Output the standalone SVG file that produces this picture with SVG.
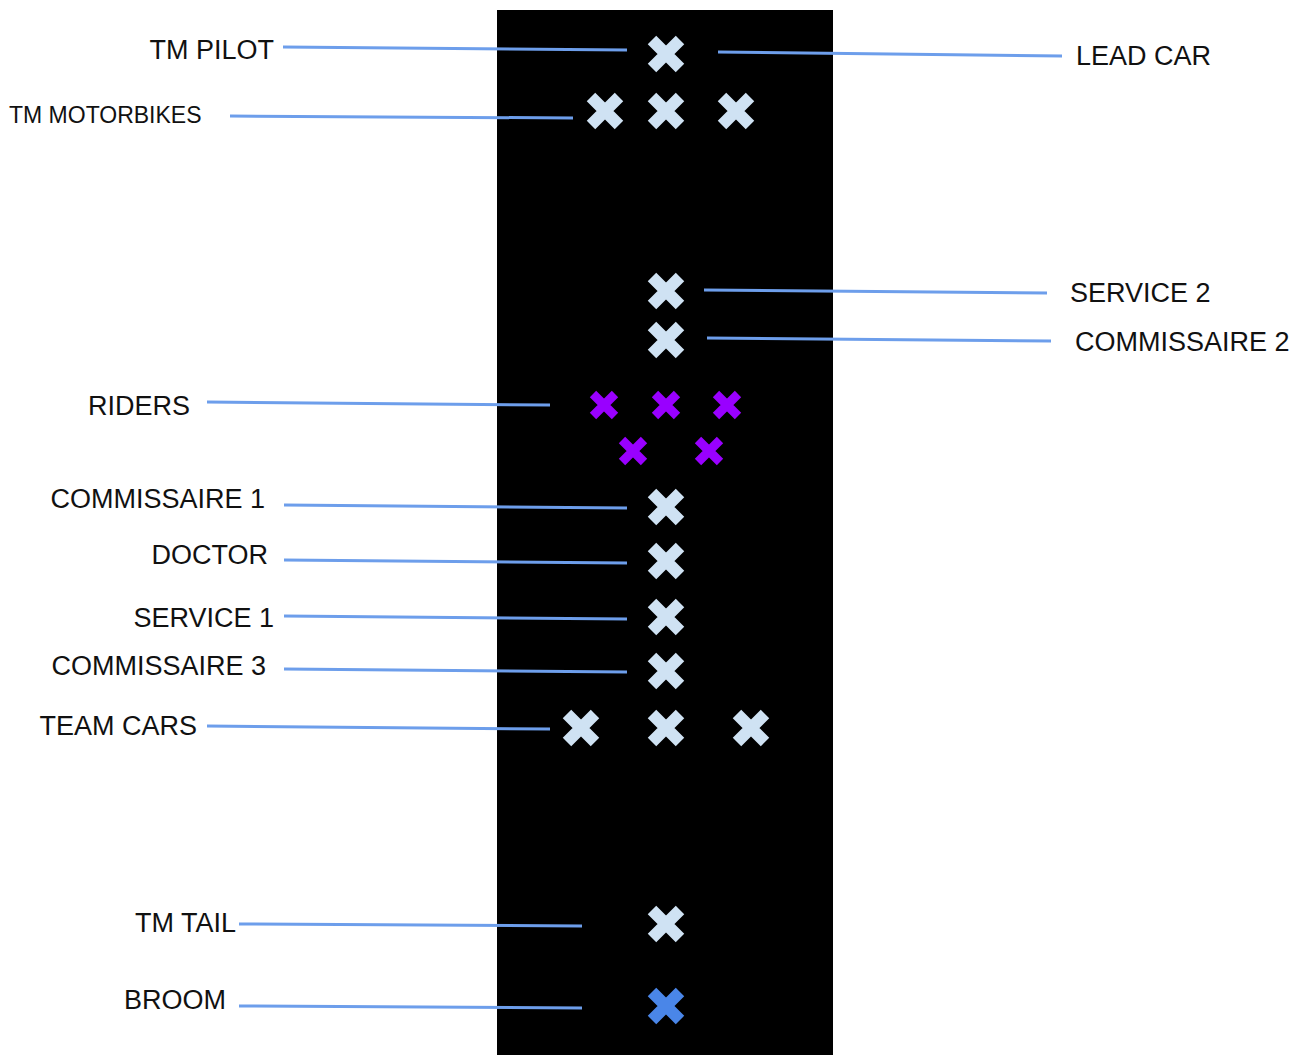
<svg xmlns="http://www.w3.org/2000/svg" width="1301" height="1055" viewBox="0 0 1301 1055">
<style>
.lbl{font-family:"Liberation Sans",Arial,sans-serif;font-size:27px;fill:#111;}
.sm{font-size:23px;}
.r{text-anchor:end;}
.con line{stroke:#6d9eeb;stroke-width:3;}
.xw{stroke:#cfe2f3;stroke-width:12;}
.xp{stroke:#9900ff;stroke-width:9;}
.xb{stroke:#4a86e8;stroke-width:12;}
</style>
<defs>
<path id="xbig" d="M-14,-14 L14,14 M14,-14 L-14,14"/>
<path id="xsm" d="M-11,-11 L11,11 M11,-11 L-11,11"/>
</defs>
<rect width="1301" height="1055" fill="#ffffff"/>
<rect id="road" x="497" y="10" width="336" height="1045" fill="#000000"/>
<g class="con" id="connectors">
<line x1="283" y1="47" x2="627" y2="50"/>
<line x1="718" y1="52" x2="1062" y2="56"/>
<line x1="230" y1="116" x2="573" y2="118"/>
<line x1="704" y1="290" x2="1047" y2="293"/>
<line x1="707" y1="338" x2="1051" y2="341"/>
<line x1="207" y1="402" x2="550" y2="405"/>
<line x1="284" y1="505" x2="627" y2="508"/>
<line x1="284" y1="560" x2="627" y2="563"/>
<line x1="284" y1="616" x2="627" y2="619"/>
<line x1="284" y1="669" x2="627" y2="672"/>
<line x1="207" y1="726" x2="550" y2="729"/>
<line x1="239" y1="924" x2="582" y2="926"/>
<line x1="239" y1="1006" x2="582" y2="1008"/>
</g>
<g id="tm-pilot">
<text class="lbl r" x="274" y="59">TM PILOT</text>
<use href="#xbig" class="xw" x="666" y="54"/>
</g>
<g id="lead-car">
<text class="lbl" x="1076" y="65">LEAD CAR</text>
</g>
<g id="tm-motorbikes">
<text class="lbl sm" x="9" y="123">TM MOTORBIKES</text>
<use href="#xbig" class="xw" x="605" y="111"/>
<use href="#xbig" class="xw" x="666" y="111"/>
<use href="#xbig" class="xw" x="736" y="111"/>
</g>
<g id="service-2">
<text class="lbl" x="1070" y="302">SERVICE 2</text>
<use href="#xbig" class="xw" x="666" y="291"/>
</g>
<g id="commissaire-2">
<text class="lbl" x="1075" y="351">COMMISSAIRE 2</text>
<use href="#xbig" class="xw" x="666" y="340"/>
</g>
<g id="riders">
<text class="lbl r" x="190" y="415">RIDERS</text>
<use href="#xsm" class="xp" x="604" y="405"/>
<use href="#xsm" class="xp" x="666" y="405"/>
<use href="#xsm" class="xp" x="727" y="405"/>
<use href="#xsm" class="xp" x="633" y="451"/>
<use href="#xsm" class="xp" x="709" y="451"/>
</g>
<g id="commissaire-1">
<text class="lbl r" x="265" y="508">COMMISSAIRE 1</text>
<use href="#xbig" class="xw" x="666" y="507"/>
</g>
<g id="doctor">
<text class="lbl r" x="268" y="564">DOCTOR</text>
<use href="#xbig" class="xw" x="666" y="561"/>
</g>
<g id="service-1">
<text class="lbl r" x="274" y="627">SERVICE 1</text>
<use href="#xbig" class="xw" x="666" y="617"/>
</g>
<g id="commissaire-3">
<text class="lbl r" x="266" y="675">COMMISSAIRE 3</text>
<use href="#xbig" class="xw" x="666" y="671"/>
</g>
<g id="team-cars">
<text class="lbl r" x="197" y="735">TEAM CARS</text>
<use href="#xbig" class="xw" x="581" y="728"/>
<use href="#xbig" class="xw" x="666" y="728"/>
<use href="#xbig" class="xw" x="751" y="728"/>
</g>
<g id="tm-tail">
<text class="lbl r" x="236" y="932">TM TAIL</text>
<use href="#xbig" class="xw" x="666" y="924"/>
</g>
<g id="broom">
<text class="lbl r" x="226" y="1009">BROOM</text>
<use href="#xbig" class="xb" x="666" y="1006"/>
</g>
</svg>
